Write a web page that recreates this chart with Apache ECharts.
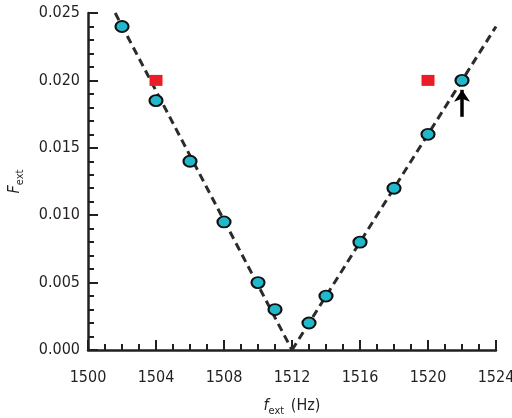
<!DOCTYPE html>
<html>
<head>
<meta charset="utf-8">
<script src="https://cdn.jsdelivr.net/npm/echarts@6/dist/echarts.min.js"></script>
<style>
    html, body { margin: 0; padding: 0; background: #fff; }
    #chart { width: 512px; height: 418px; }
</style>
</head>
<body>
<div id="chart"></div>
<script>
// measured points (f_ext, F_ext)
var measFreq = [1502, 1504, 1506, 1508, 1510, 1511, 1513, 1514, 1516, 1518, 1520, 1522];
var measF    = [0.024, 0.0185, 0.014, 0.0095, 0.005, 0.003, 0.002, 0.004, 0.008, 0.012, 0.016, 0.020];

// red squares
var redFreq = [1504, 1520];
var redF    = [0.020, 0.020];

// dashed fit lines (end points)
var leftFitFreq  = [1501.6, 1512];
var leftFitF     = [0.025, 0];
var rightFitFreq = [1512, 1524];
var rightFitF    = [0, 0.024];

// arrow pointing to the last point
var arrowFreq = [1522, 1522];
var arrowF    = [0.0173, 0.0193];

var xTicks = [1500, 1524, 4];
var yTicks = [0, 0.025, 0.005];

var font = "'Liberation Sans Narrow', 'DejaVu Sans Condensed', sans-serif";
var ink = '#231f20';

function pairs(xs, ys) {
    var arr = [];
    for (var i = 0; i < xs.length; i++) {
        arr.push([xs[i], ys[i]]);
    }
    return arr;
}

var chart = echarts.init(document.getElementById('chart'));

var axisCommon = {
    axisLine: { onZero: false, lineStyle: { color: ink, width: 2.5 } },
    axisTick: { inside: true, length: 10, lineStyle: { color: ink, width: 2 } },
    minorTick: { show: true, length: 6, lineStyle: { color: ink, width: 2 } },
    splitLine: { show: false },
    nameLocation: 'middle'
};

var option = {
    animation: false,
    textStyle: { fontFamily: font },
    grid: { left: 88, right: 16, top: 13, bottom: 68, containLabel: false, outerBoundsMode: 'none' },
    xAxis: Object.assign({}, axisCommon, {
        type: 'value',
        min: xTicks[0], max: xTicks[1], interval: xTicks[2],
        minorTick: Object.assign({}, axisCommon.minorTick, { splitNumber: 4 }),
        axisLabel: {
            color: ink, fontSize: 16, fontFamily: font, margin: 20,
            formatter: function (v) { return String(v); }
        },
        name: '{i|f}{s|ext} (Hz)',
        nameGap: 44,
        nameTextStyle: {
            color: ink, fontSize: 16, fontFamily: font,
            rich: {
                i: { fontStyle: 'italic', fontSize: 16, fontFamily: font, color: ink },
                s: { fontSize: 11, fontFamily: font, color: ink, padding: [12, 2, 0, 0] }
            }
        }
    }),
    yAxis: Object.assign({}, axisCommon, {
        type: 'value',
        min: yTicks[0], max: yTicks[1], interval: yTicks[2],
        minorTick: Object.assign({}, axisCommon.minorTick, { splitNumber: 5 }),
        axisLabel: {
            color: ink, fontSize: 16, fontFamily: font, margin: 8,
            formatter: function (v) { return v.toFixed(3); }
        },
        name: '{i|F}{s|ext}',
        nameGap: 62,
        nameTextStyle: {
            color: ink, fontSize: 16, fontFamily: font,
            rich: {
                i: { fontStyle: 'italic', fontSize: 16, fontFamily: font, color: ink },
                s: { fontSize: 11, fontFamily: font, color: ink, padding: [12, 0, 0, 0] }
            }
        }
    }),
    series: [
        {
            type: 'line',
            data: pairs(leftFitFreq, leftFitF),
            showSymbol: false,
            silent: true,
            lineStyle: { color: '#2b2b2b', width: 3, type: [8, 5] },
            z: 1
        },
        {
            type: 'line',
            data: pairs(rightFitFreq, rightFitF),
            showSymbol: false,
            silent: true,
            lineStyle: { color: '#2b2b2b', width: 3, type: [8, 5] },
            z: 1
        },
        {
            type: 'scatter',
            data: pairs(redFreq, redF),
            symbol: 'rect',
            symbolSize: [13, 11],
            itemStyle: { color: '#ec1c24', opacity: 1 },
            z: 2
        },
        {
            type: 'scatter',
            data: pairs(measFreq, measF),
            symbol: 'circle',
            symbolSize: [13, 11],
            itemStyle: { color: '#22b8cc', borderColor: '#111', borderWidth: 2, opacity: 1 },
            z: 3,
            markLine: {
                silent: true,
                symbol: ['none', 'arrow'],
                symbolSize: [12, 12],
                label: { show: false },
                lineStyle: { color: '#000', width: 3.5, type: 'solid' },
                data: [[
                    { coord: [arrowFreq[0], arrowF[0]] },
                    { coord: [arrowFreq[1], arrowF[1]] }
                ]]
            }
        }
    ]
};

chart.setOption(option);
</script>
</body>
</html>
